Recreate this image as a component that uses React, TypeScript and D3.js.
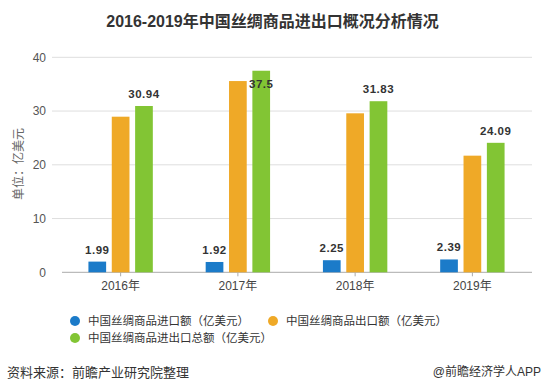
import { scaleBand, scaleLinear } from "d3"

const years = ["2016年", "2017年", "2018年", "2019年"]
const seriesNames = [
    "中国丝绸商品进口额（亿美元）",
    "中国丝绸商品出口额（亿美元）",
    "中国丝绸商品进出口总额（亿美元）",
]
const importValues = [1.99, 1.92, 2.25, 2.39]
const exportValues = [28.95, 35.58, 29.58, 21.7]
const totalValues = [30.94, 37.5, 31.83, 24.09]
const yTicks = [0, 10, 20, 30, 40]
const colors = ["#1b7bc9", "#efa927", "#82c534"]
const labelled = [true, false, true]

const font = "'Liberation Sans', 'Noto Sans CJK SC', sans-serif"
const cjkFont = "'Noto Sans CJK SC', sans-serif"

const App = () => {
    const width = 545
    const height = 392
    const series = [importValues, exportValues, totalValues]

    const x = scaleBand().domain(years).range([62, 531]).padding(0)
    const inner = scaleBand().domain(["0", "1", "2"]).range([-32.2, 32.2]).paddingInner(0.242).paddingOuter(0)
    const y = scaleLinear().domain([0, 40]).range([272.3, 57.3])

    return (
        <svg width={width} height={height} style={{ position: "absolute", left: 0, top: 0, background: "#fff" }} fontFamily={font}>
            <text x={width / 2} y={27} textAnchor="middle" fontSize={16} fontWeight="bold" fill="#333">
                2016-2019年中国丝绸商品进出口概况分析情况
            </text>

            {yTicks.filter(t => t > 0).map(t => (
                <line key={t} x1={52} x2={532} y1={y(t)} y2={y(t)} stroke="#dedede" strokeWidth={1} />
            ))}
            <line x1={62} x2={532} y1={y(0)} y2={y(0)} stroke="#aaa" strokeWidth={1} />

            {yTicks.map(t => (
                <text key={t} x={46} y={y(t)} dy="0.35em" textAnchor="end" fontSize={12} fill="#555">{t}</text>
            ))}

            <text transform={`translate(19,164) rotate(-90)`} textAnchor="middle" dy="0.35em" fontSize={12} fill="#666" fontFamily={cjkFont}>
                单位：亿美元
            </text>

            {years.map(yr => (
                <g key={yr}>
                    <line x1={x(yr) + x.bandwidth() / 2} x2={x(yr) + x.bandwidth() / 2} y1={y(0)} y2={y(0) + 4} stroke="#aaa" />
                    <text x={x(yr) + x.bandwidth() / 2} y={290} textAnchor="middle" fontSize={12} fill="#444">{yr}</text>
                </g>
            ))}

            {series.map((vals, si) => (
                <g key={si}>
                    {vals.map((v, i) => {
                        const cx = x(years[i]) + x.bandwidth() / 2
                        const bx = cx + inner(String(si))
                        return (
                            <g key={i}>
                                <rect x={bx} y={y(v)} width={inner.bandwidth()} height={y(0) - y(v)} fill={colors[si]} />
                                {labelled[si] && (
                                    <text x={bx + inner.bandwidth() / 2} y={Math.max(y(v) - 8, 88)} textAnchor="middle"
                                        fontSize={11.5} fontWeight="bold" fill="#333" letterSpacing={0.5}>
                                        {v}
                                    </text>
                                )}
                            </g>
                        )
                    })}
                </g>
            ))}

            {seriesNames.map((name, i) => {
                const lx = i === 1 ? 273 : 75
                const ly = i === 2 ? 338 : 321
                return (
                    <g key={name}>
                        <circle cx={lx} cy={ly} r={5} fill={colors[i]} />
                        <text x={lx + 13} y={ly} dy="0.35em" fontSize={11.5} fill="#333" fontFamily={cjkFont}>{name}</text>
                    </g>
                )
            })}

            <text x={7} y={377} fontSize={13} fill="#333" fontFamily={cjkFont}>资料来源：前瞻产业研究院整理</text>
            <text x={541} y={376} textAnchor="end" fontSize={12} fill="#333">@前瞻经济学人APP</text>
        </svg>
    )
}

export default App
